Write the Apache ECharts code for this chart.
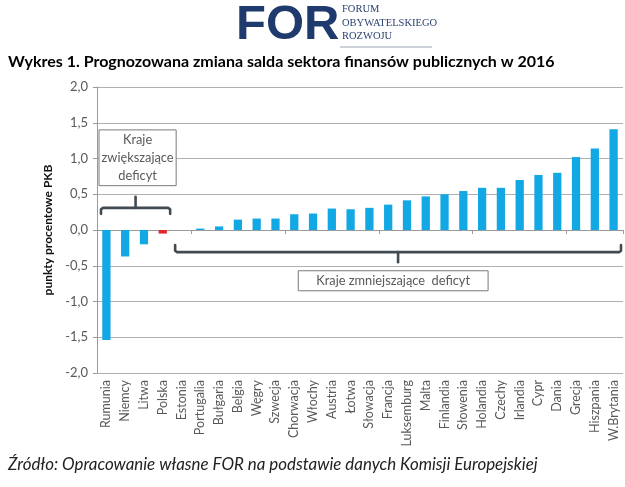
<!DOCTYPE html>
<html><head><meta charset="utf-8">
<script src="https://cdn.jsdelivr.net/npm/echarts@6/dist/echarts.min.js"></script>
<style>html,body{margin:0;padding:0;background:#fff}#c{width:625px;height:487px}</style>
</head><body><div id="c"></div>
<script>
const categories = ['Rumunia','Niemcy','Litwa','Polska','Estonia','Portugalia','Bułgaria','Belgia','Węgry','Szwecja','Chorwacja','Włochy','Austria','Łotwa','Słowacja','Francja','Luksemburg','Malta','Finlandia','Słowenia','Holandia','Czechy','Irlandia','Cypr','Dania','Grecja','Hiszpania','W.Brytania'];
const values = [-1.54,-0.37,-0.20,-0.05,0.00,0.02,0.05,0.145,0.16,0.16,0.22,0.23,0.30,0.29,0.31,0.355,0.415,0.47,0.50,0.545,0.59,0.59,0.70,0.77,0.80,1.02,1.14,1.41];
const yTicks = [-2.0,-1.5,-1.0,-0.5,0.0,0.5,1.0,1.5,2.0];
const highlighted = 'Polska';
const titleText = 'Wykres 1. Prognozowana zmiana salda sektora finansów publicznych w 2016';
const sourceText = 'Źródło: Opracowanie własne FOR na podstawie danych Komisji Europejskiej';
const group1Label = 'Kraje\nzwiększające\ndeficyt';
const group2Label = 'Kraje zmniejszające  deficyt';
const yName = 'punkty procentowe PKB';

const FONT = 'Lato, "Open Sans", sans-serif';
const chart = echarts.init(document.getElementById('c'));
const fmt = v => v.toFixed(1).replace('.', ',');

chart.setOption({
  animation: false,
  backgroundColor: '#fff',
  textStyle: {fontFamily: FONT},
  grid: {left: 97, right: 2, top: 87, bottom: 114, containLabel: false},
  xAxis: [{
    type: 'category', data: categories, position: 'bottom',
    axisLine: {onZero: true, lineStyle: {color: '#9a9a9a', width: 1}},
    axisTick: {show: true, length: 4, lineStyle: {color: '#9a9a9a'}},
    axisLabel: {show: false}
  }, {
    type: 'category', data: categories, position: 'bottom',
    axisLine: {show: false}, axisTick: {show: false},
    axisLabel: {rotate: 90, interval: 0, fontSize: 12.5, color: '#595959', margin: 7, fontFamily: FONT}
  }],
  yAxis: {
    type: 'value', min: yTicks[0], max: yTicks[yTicks.length - 1], interval: 0.5,
    name: yName, nameLocation: 'middle', nameGap: 40,
    nameTextStyle: {fontSize: 12, fontWeight: 'bold', color: '#111', fontFamily: FONT},
    axisLine: {show: true, lineStyle: {color: '#9a9a9a'}},
    axisTick: {show: true, length: 4, lineStyle: {color: '#9a9a9a'}},
    axisLabel: {formatter: v => fmt(v), fontSize: 13, color: '#595959', margin: 9, fontFamily: FONT},
    splitLine: {lineStyle: {color: '#b0b0b0', width: 1}}
  },
  series: [{
    type: 'bar', xAxisIndex: 0, barWidth: '44%',
    data: values.map((v, i) => ({value: v, itemStyle: {color: categories[i] === highlighted ? '#e3262c' : '#12a8e4'}}))
  }]
});

const px = (i, v) => chart.convertToPixel({xAxisIndex: 0, yAxisIndex: 0}, [i, v]);
const band = px(1, 0)[0] - px(0, 0)[0];
const bracketColor = '#434b52';

const b1L = px(0, 0)[0] - band / 2 + 4, b1R = px(3, 0)[0] + band / 2 - 2, b1Y = px(0, 0.31)[1];
const b1M = (b1L + b1R) / 2;
const b2L = px(4, 0)[0] - band / 2 + 3, b2R = px(27, 0)[0] + band / 2 - 2, b2Y = px(0, -0.31)[1];
const b2M = (b2L + b2R) / 2;
const box1L = px(0, 0)[0] - band / 2 + 2, box1R = px(3, 0)[0] + band / 2 + 4;
const box1T = px(0, 1.4)[1], box1B = px(0, 0.62)[1];
const box2L = px(10, 0)[0] + 4, box2R = px(20, 0)[0] + 6;
const box2T = px(0, -0.57)[1], box2B = px(0, -0.85)[1];

const ls = {stroke: bracketColor, lineWidth: 2.6, lineJoin: 'round', lineCap: 'round', fill: null};
chart.setOption({
  graphic: [
    {type: 'text', left: 236, top: 1, style: {text: 'FOR', font: 'bold 49px "Liberation Sans", Arial, sans-serif', fill: '#1f3a6c'}},
    {type: 'text', left: 342, top: 4, style: {text: 'FORUM', font: '10.5px "Liberation Serif", serif', fill: '#2c4270'}},
    {type: 'text', left: 342, top: 18, style: {text: 'OBYWATELSKIEGO', font: '10.5px "Liberation Serif", serif', fill: '#2c4270'}},
    {type: 'text', left: 342, top: 31, style: {text: 'ROZWOJU', font: '10.5px "Liberation Serif", serif', fill: '#2c4270'}},
    {type: 'line', shape: {x1: 340, y1: 47, x2: 432, y2: 47}, style: {stroke: '#9aa3b5', lineWidth: 1}},
    {type: 'text', left: 8, top: 54, style: {text: titleText, font: 'bold 16px ' + FONT, fill: '#000'}},
    {type: 'text', left: 8, top: 456, style: {text: sourceText, font: 'italic 16.9px ' + FONT, fill: '#222'}},
    {type: 'polyline', shape: {points: [[b1L, b1Y + 6], [b1L, b1Y + 1.5], [b1L + 2, b1Y], [b1R - 2, b1Y], [b1R, b1Y + 1.5], [b1R, b1Y + 6]]}, style: ls},
    {type: 'line', shape: {x1: b1M, y1: b1Y, x2: b1M, y2: b1Y - 11}, style: ls},
    {type: 'rect', shape: {x: box1L, y: box1T, width: box1R - box1L, height: box1B - box1T}, style: {fill: '#fff', stroke: '#7a7a7a', lineWidth: 1}},
    {type: 'text', x: (box1L + box1R) / 2, y: (box1T + box1B) / 2, style: {text: group1Label, font: '12.8px ' + FONT, fill: '#595959', align: 'center', verticalAlign: 'middle', lineHeight: 18}},
    {type: 'polyline', shape: {points: [[b2L, b2Y - 7], [b2L, b2Y - 1.5], [b2L + 2, b2Y], [b2R - 2, b2Y], [b2R, b2Y - 1.5], [b2R, b2Y - 7]]}, style: ls},
    {type: 'line', shape: {x1: b2M, y1: b2Y, x2: b2M, y2: b2Y + 10}, style: ls},
    {type: 'rect', shape: {x: box2L, y: box2T, width: box2R - box2L, height: box2B - box2T}, style: {fill: '#fff', stroke: '#7a7a7a', lineWidth: 1}},
    {type: 'text', x: (box2L + box2R) / 2, y: (box2T + box2B) / 2, style: {text: group2Label, font: '12.8px ' + FONT, fill: '#595959', align: 'center', verticalAlign: 'middle'}}
  ]
});
</script></body></html>
